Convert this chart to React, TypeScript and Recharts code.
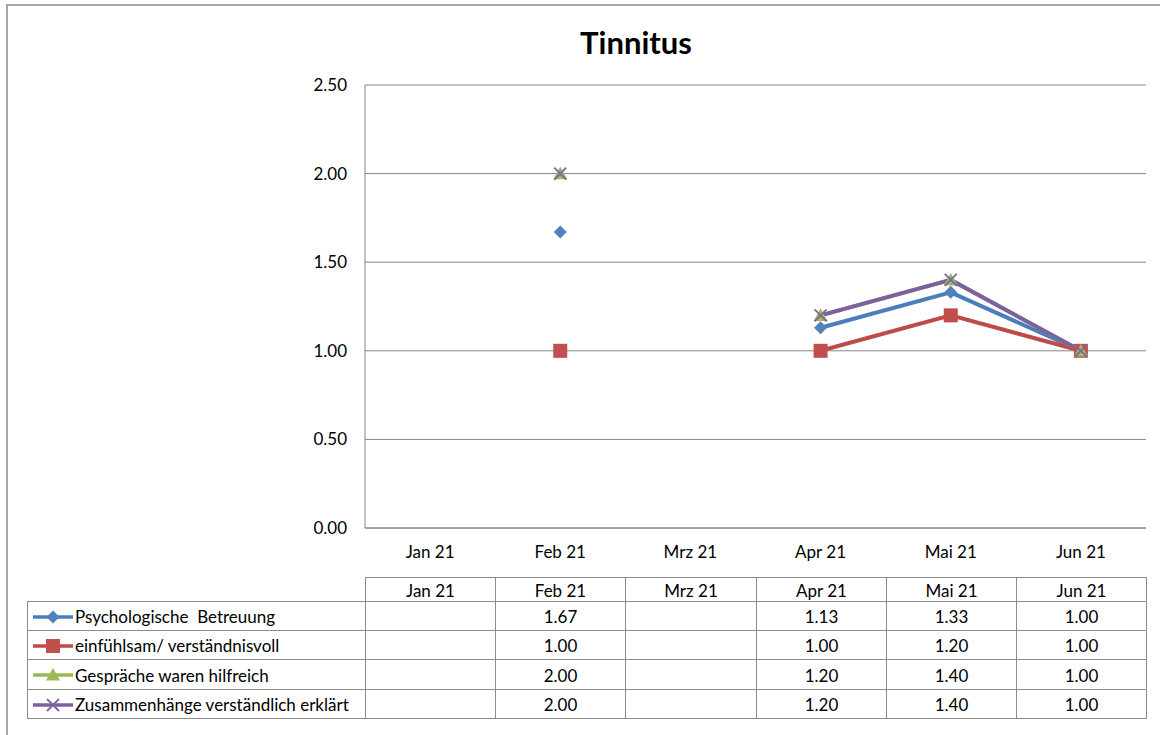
import React from "react";
import { LineChart, Line, XAxis, YAxis, CartesianGrid } from "recharts";

const months = ["Jan 21", "Feb 21", "Mrz 21", "Apr 21", "Mai 21", "Jun 21"];
const psych: (number | null)[] = [null, 1.67, null, 1.13, 1.33, 1.0];
const einf: (number | null)[] = [null, 1.0, null, 1.0, 1.2, 1.0];
const gespr: (number | null)[] = [null, 2.0, null, 1.2, 1.4, 1.0];
const zusam: (number | null)[] = [null, 2.0, null, 1.2, 1.4, 1.0];
const yTicks = [0, 0.5, 1, 1.5, 2, 2.5];

const seriesNames = [
  "Psychologische  Betreuung",
  "einfühlsam/ verständnisvoll",
  "Gespräche waren hilfreich",
  "Zusammenhänge verständlich erklärt",
];
const seriesValues = [psych, einf, gespr, zusam];
const seriesKeys = ["psych", "einf", "gespr", "zusam"];
const lineColors = ["#4A7EBB", "#BE4B48", "#98B954", "#7D60A0"];
const markerColors = ["#4F81BD", "#C0504D", "#9BBB59", "#8064A2"];
const markerTypes = ["diamond", "square", "triangle", "x"];

const data = months.map((m, i) => ({
  month: m,
  psych: psych[i],
  einf: einf[i],
  gespr: gespr[i],
  zusam: zusam[i],
}));

const FONT = "Lato, 'Open Sans', sans-serif";
const FS = 17;

const W = 1160;
const H = 735;
const PL = 365;
const PR = 1146;
const PT = 85;
const PB = 528;
const colW = (PR - PL) / months.length;

function Marker({ type, cx, cy, color }: { type: string; cx: number; cy: number; color: string }) {
  if (type === "diamond") {
    const r = 6.5;
    return <path d={`M${cx},${cy - r}L${cx + r},${cy}L${cx},${cy + r}L${cx - r},${cy}Z`} fill={color} />;
  }
  if (type === "square") {
    const r = 7;
    return <rect x={cx - r} y={cy - r} width={2 * r} height={2 * r} fill={color} />;
  }
  if (type === "triangle") {
    const r = 7;
    return <path d={`M${cx},${cy - r}L${cx + r},${cy + r * 0.8}L${cx - r},${cy + r * 0.8}Z`} fill={color} />;
  }
  const r = 6;
  return (
    <path
      d={`M${cx - r},${cy - r}L${cx + r},${cy + r}M${cx + r},${cy - r}L${cx - r},${cy + r}`}
      stroke={color}
      strokeWidth={1.8}
      fill="none"
    />
  );
}

function makeDot(idx: number) {
  return (props: any) => {
    const { cx, cy, value, index } = props;
    const k = `dot-${idx}-${index}`;
    if (value == null || cx == null || cy == null || isNaN(cy)) return <g key={k} />;
    return (
      <g key={k}>
        <Marker type={markerTypes[idx]} cx={cx} cy={cy} color={markerColors[idx]} />
      </g>
    );
  };
}

function LegendIcon({ idx }: { idx: number }) {
  return (
    <svg width={42} height={16} style={{ display: "block", flex: "none" }}>
      <line x1={1} y1={8} x2={41} y2={8} stroke={lineColors[idx]} strokeWidth={3.5} />
      <Marker type={markerTypes[idx]} cx={21} cy={8} color={markerColors[idx]} />
    </svg>
  );
}

const borderColor = "#8c8c8c";
const tableTop = 577;
const headerH = 24;
const rowH = 29.2;
const legendLeft = 27;

function fmt(v: number | null) {
  return v == null ? "" : v.toFixed(2);
}

export default function App() {
  const cellBase: React.CSSProperties = {
    position: "absolute",
    boxSizing: "border-box",
    border: `1.5px solid ${borderColor}`,
    fontFamily: FONT,
    fontSize: FS,
    color: "#000",
    display: "flex",
    alignItems: "center",
    justifyContent: "center",
    paddingTop: 1,
  };
  const colX = (i: number) => Math.round(PL + i * colW);
  const cells: React.ReactNode[] = [];
  months.forEach((m, i) => {
    cells.push(
      <div
        key={`h-${i}`}
        style={{ ...cellBase, left: colX(i), top: tableTop, width: colX(i + 1) - colX(i) + 1, height: headerH + 1 }}
      >
        {m}
      </div>
    );
  });
  seriesNames.forEach((name, r) => {
    const top = Math.round(tableTop + headerH + r * rowH);
    const bottom = Math.round(tableTop + headerH + (r + 1) * rowH);
    cells.push(
      <div
        key={`n-${r}`}
        style={{
          ...cellBase,
          left: legendLeft,
          top,
          width: PL - legendLeft + 1,
          height: bottom - top + 1,
          justifyContent: "flex-start",
          paddingLeft: 4,
          whiteSpace: "pre",
        }}
      >
        <LegendIcon idx={r} />
        <span style={{ marginLeft: 1 }}>{name}</span>
      </div>
    );
    seriesValues[r].forEach((v, i) => {
      cells.push(
        <div
          key={`c-${r}-${i}`}
          style={{ ...cellBase, left: colX(i), top, width: colX(i + 1) - colX(i) + 1, height: bottom - top + 1 }}
        >
          {fmt(v)}
        </div>
      );
    });
  });

  return (
    <div
      style={{
        position: "absolute",
        left: 0,
        top: 0,
        width: W,
        height: H,
        overflow: "hidden",
        background: "#fff",
      }}
    >
      <div
        style={{
          position: "absolute",
          left: 6,
          top: 4,
          width: W + 20,
          height: H + 20,
          border: "2px solid #a6a6a6",
          boxSizing: "border-box",
        }}
      />
      <div
        style={{
          position: "absolute",
          left: 0,
          width: 1272,
          top: 22,
          textAlign: "center",
          fontFamily: FONT,
          fontWeight: 700,
          fontSize: 31,
          lineHeight: "40px",
          color: "#000",
        }}
      >
        Tinnitus
      </div>
      <div style={{ position: "absolute", left: 0, top: 0 }}>
        <LineChart
          width={W}
          height={H}
          data={data}
          margin={{ top: PT, right: W - PR, left: PL - 60, bottom: H - PB - 30 }}
        >
          <CartesianGrid vertical={false} stroke="#868686" strokeWidth={1} />
          <XAxis
            dataKey="month"
            height={30}
            axisLine={{ stroke: "#868686" }}
            tickLine={false}
            tickMargin={12}
            interval={0}
            padding={{ left: colW / 2, right: colW / 2 }}
            tick={{ fontFamily: FONT, fontSize: FS, fill: "#000" }}
          />
          <YAxis
            width={60}
            domain={[0, 2.5]}
            ticks={yTicks}
            axisLine={{ stroke: "#868686" }}
            tickLine={false}
            tickMargin={12}
            tickFormatter={(v: number) => v.toFixed(2)}
            tick={{ fontFamily: FONT, fontSize: FS, fill: "#000" }}
          />
          {seriesKeys.map((k, idx) => (
            <Line
              key={k}
              dataKey={k}
              type="linear"
              stroke={lineColors[idx]}
              strokeWidth={4}
              connectNulls={false}
              isAnimationActive={false}
              dot={makeDot(idx)}
              activeDot={false}
            />
          ))}
        </LineChart>
      </div>
      {cells}
    </div>
  );
}
